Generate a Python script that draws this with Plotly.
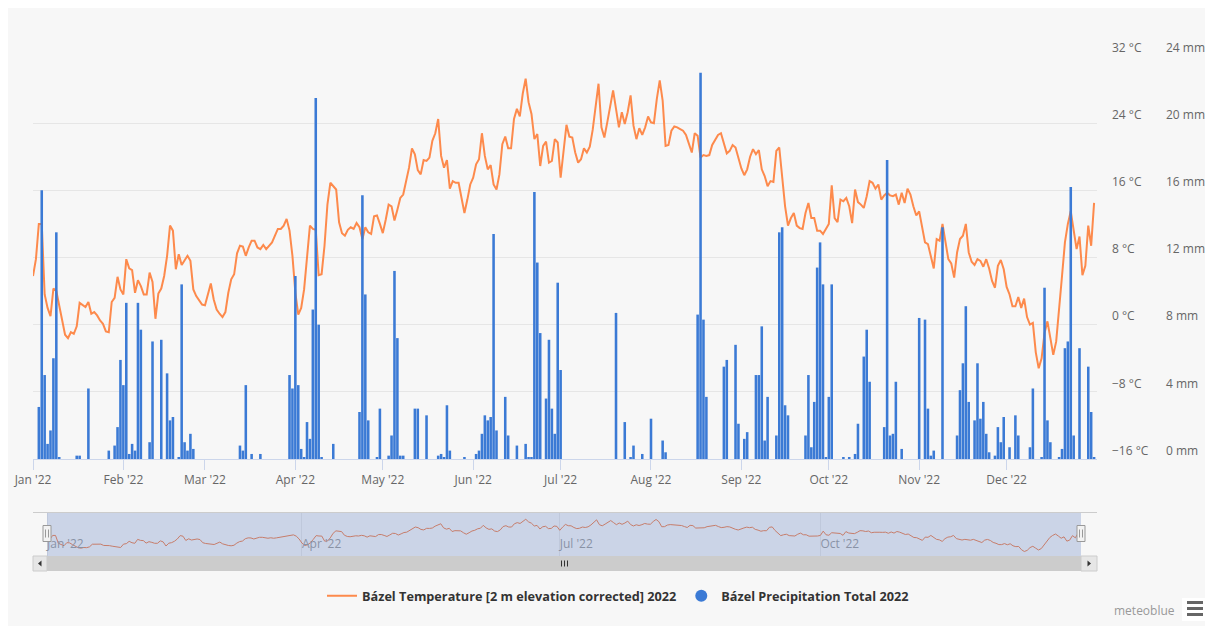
import datetime as dt
import plotly.graph_objects as go

# daily mean temperature (°C)
temp_jan = [5.8, 7.8, 12.0, 12.0, 3.6, 2.0, 1.0, 4.3, 4.0, 2.2, 0.8, -1.2, -1.6, -0.9, -1.1, -0.2,
            2.6, 2.4, 2.1, 2.7, 1.3, 1.5, 1.1, 0.5, 0.1, -0.8, -0.9, 2.7, 3.2, 5.7, 4.2]
temp_feb = [3.6, 7.8, 6.7, 6.5, 3.8, 5.3, 4.6, 3.6, 3.6, 6.2, 5.1, 0.7, 3.7, 4.3, 5.8, 8.2,
            11.8, 11.2, 6.6, 8.4, 7.1, 7.6, 8.2, 7.6, 4.2, 3.4, 2.9, 2.4]
temp_mar = [2.3, 3.6, 4.9, 3.0, 1.8, 1.3, 0.9, 1.5, 3.8, 5.4, 6.0, 8.5, 9.4, 9.3, 8.2, 9.2,
            10.0, 10.0, 9.2, 9.0, 9.5, 9.0, 9.4, 9.8, 10.6, 11.4, 11.4, 11.8, 12.6, 11.2, 8.2]
temp_apr = [3.8, 1.2, 2.0, 4.2, 7.8, 11.8, 11.4, 11.3, 5.9, 6.0, 9.4, 14.3, 16.9, 16.5, 16.1,
            12.2, 10.9, 10.6, 11.3, 11.6, 11.4, 12.1, 11.6, 10.2, 11.6, 11.0, 10.8, 12.9, 13.0, 12.0]
temp_may = [10.9, 12.5, 14.3, 14.1, 12.4, 13.7, 15.1, 15.5, 17.3, 18.7, 21.0, 20.3, 18.4, 17.9,
            19.6, 19.5, 19.9, 21.9, 22.8, 24.5, 20.1, 18.7, 19.6, 16.2, 17.1, 16.9, 16.9, 14.9,
            13.3, 14.9, 16.7]
temp_jun = [17.5, 19.1, 19.7, 22.8, 20.1, 18.5, 19.0, 16.7, 16.1, 17.9, 21.5, 22.4, 21.0, 21.0,
            24.5, 25.7, 24.8, 27.5, 29.3, 26.5, 25.1, 22.1, 22.7, 18.9, 21.3, 21.8, 19.3, 19.5,
            22.1, 21.7]
temp_jul = [17.5, 20.9, 23.8, 22.4, 22.3, 20.5, 19.3, 19.7, 21.0, 20.5, 21.2, 23.2, 25.7, 28.7,
            23.5, 22.3, 24.1, 25.9, 27.9, 25.7, 23.5, 25.3, 23.9, 25.3, 27.3, 23.7, 22.1, 23.4,
            22.6, 23.5, 24.8]
temp_aug = [24.1, 24.0, 26.9, 29.1, 26.7, 21.3, 21.4, 23.1, 23.6, 23.5, 23.3, 23.1, 22.6, 21.5,
            20.5, 22.8, 22.5, 19.9, 20.2, 20.1, 20.2, 21.4, 22.1, 22.6, 22.8, 21.5, 20.4, 20.7,
            21.4, 21.1, 19.7]
temp_sep = [18.6, 17.8, 18.5, 20.0, 20.9, 20.3, 20.8, 18.5, 17.7, 16.5, 17.1, 17.0, 20.7, 21.1,
            17.3, 14.1, 11.8, 12.7, 13.3, 11.8, 11.5, 11.4, 13.3, 14.5, 12.7, 12.7, 11.2, 11.2,
            10.8, 11.4]
temp_oct = [12.0, 16.6, 12.7, 12.2, 14.9, 14.7, 15.1, 14.1, 12.1, 16.1, 14.6, 14.3, 13.9, 15.3,
            17.1, 16.9, 16.2, 16.7, 14.9, 15.4, 15.7, 15.4, 15.3, 15.5, 14.3, 15.7, 14.5, 16.2,
            15.5, 14.1, 13.0]
temp_nov = [13.5, 11.6, 9.8, 9.6, 8.2, 6.7, 10.2, 10.0, 12.0, 10.0, 7.8, 7.3, 5.6, 8.6, 10.2,
            10.6, 12.0, 8.6, 7.5, 7.1, 7.8, 7.6, 6.9, 7.8, 6.7, 5.2, 4.4, 7.0, 7.7, 6.6]
temp_dec = [4.5, 3.6, 2.2, 2.2, 3.3, 2.0, 3.1, 0.9, 0.0, 0.2, -3.3, -5.2, -4.0, -1.0, 0.4, -1.6,
            -3.6, -2.0, 2.4, 5.8, 9.8, 12.0, 13.5, 11.4, 9.0, 10.5, 5.9, 7.0, 11.8, 9.4, 14.5]

# daily precipitation total (mm)
precip_jan = [0, 0, 3.1, 16.0, 5.0, 0.9, 1.7, 6.0, 13.5, 0.1, 0, 0, 0, 0, 0, 0.2, 0.2, 0, 0, 4.2,
              0, 0, 0, 0, 0, 0, 0.5, 0, 0.8, 1.9, 5.9]
precip_feb = [4.4, 9.3, 0.3, 0.9, 0.5, 9.3, 7.7, 0, 0, 1.0, 7.0, 0, 0, 7.1, 0, 5.1, 2.3, 2.5, 0,
              0.1, 10.4, 1.0, 0.5, 1.5, 0.6, 0, 0, 0]
precip_mar = [0, 0, 0, 0, 0, 0, 0, 0, 0, 0, 0, 0, 0.8, 0.5, 4.4, 0, 0.3, 0, 0, 0.3, 0, 0, 0, 0, 0,
              0, 0, 0, 0, 5.0, 4.2]
precip_apr = [10.9, 4.4, 0.6, 0.1, 2.2, 1.2, 8.9, 21.5, 8.0, 0.1, 0, 0, 0, 0.9, 0, 0, 0, 0, 0, 0,
              0, 0, 2.8, 15.7, 9.8, 2.3, 0, 0, 0.1, 3.0]
precip_may = [0, 0, 0.2, 1.4, 11.2, 7.2, 0.2, 0.2, 0, 0, 0, 3.0, 3.0, 0, 0, 2.6, 0, 0, 0, 0.2,
              0.3, 0.1, 3.2, 0.5, 0, 0, 0, 0, 0.1, 0, 0]
precip_jun = [0, 0.3, 0.5, 1.5, 2.6, 2.3, 2.5, 13.4, 1.7, 0, 0, 3.7, 1.4, 0, 0, 0.8, 0, 0, 0.9,
              0.1, 0.1, 15.9, 11.7, 7.5, 0, 3.6, 7.1, 3.0, 1.5, 10.5]
precip_jul = [5.3, 0, 0, 0, 0, 0, 0, 0, 0, 0, 0, 0, 0, 0, 0, 0, 0, 0, 0, 8.7, 0, 0, 2.2, 0, 0.1,
              0.8, 0, 0, 0.3, 0, 0]
precip_aug = [2.4, 0, 0, 0, 1.1, 0.4, 0, 0, 0, 0, 0, 0, 0, 0, 0, 0, 8.6, 23.0, 8.3, 3.7, 0, 0, 0,
              0, 0, 5.5, 5.9, 0, 0, 6.8, 2.1]
precip_sep = [0, 1.2, 1.6, 0, 0, 5.0, 5.0, 7.9, 1.1, 3.7, 0, 0, 1.4, 13.5, 13.8, 3.2, 2.6, 0, 0,
              0, 0, 0, 1.4, 5.0, 0.7, 3.4, 11.4, 12.9, 10.4, 0.1]
precip_oct = [3.7, 10.4, 0, 0, 0, 0.1, 0, 0.1, 0, 0.3, 2.1, 0, 6.1, 7.7, 4.6, 0, 0, 0, 0, 1.9,
              17.8, 1.4, 1.5, 4.6, 0, 0.6, 0, 0, 0, 0, 0]
precip_nov = [8.4, 0, 8.3, 3.0, 0.2, 0.5, 0, 0, 13.8, 0, 0, 0, 0, 1.4, 4.1, 5.7, 9.1, 3.4, 0, 2.3,
              5.7, 2.4, 3.4, 1.5, 0.4, 0, 0.2, 1.9, 1.0, 2.5]
precip_dec = [0, 0.7, 0, 2.6, 1.4, 0, 0, 0, 0.7, 4.2, 0, 0, 0.1, 10.2, 2.3, 1.0, 0, 0, 0.1, 0.6,
              6.6, 7.0, 16.2, 1.4, 0, 6.6, 0, 0, 5.5, 2.8, 0.1]

month_labels = ["Jan '22", "Feb '22", "Mar '22", "Apr '22", "May '22", "Jun '22",
                "Jul '22", "Aug '22", "Sep '22", "Oct '22", "Nov '22", "Dec '22"]
nav_labels = ["Jan '22", "Apr '22", "Jul '22", "Oct '22"]
temp_ticks = [-16, -8, 0, 8, 16, 24, 32]
temp_tick_labels = ["\u221216 °C", "\u22128 °C", "0 °C", "8 °C", "16 °C", "24 °C", "32 °C"]
precip_ticks = [0, 4, 8, 12, 16, 20, 24]
precip_tick_labels = ["0 mm", "4 mm", "8 mm", "12 mm", "16 mm", "20 mm", "24 mm"]

temperature = (temp_jan + temp_feb + temp_mar + temp_apr + temp_may + temp_jun +
               temp_jul + temp_aug + temp_sep + temp_oct + temp_nov + temp_dec)
precipitation = (precip_jan + precip_feb + precip_mar + precip_apr + precip_may + precip_jun +
                 precip_jul + precip_aug + precip_sep + precip_oct + precip_nov + precip_dec)

start = dt.date(2022, 1, 1)
days = [start + dt.timedelta(days=i) for i in range(len(temperature))]
month_starts = [dt.date(2022, m, 1) for m in range(1, 13)]
nav_starts = [dt.date(2022, m, 1) for m in (1, 4, 7, 10)]

# page has an 8px body margin; positions below are given in window pixels
OFF = 8
W, H = 1200, 618
ORANGE = '#fd8a4c'
BLUE = '#3b7ad5'


def fx(px):
    return (px - OFF) / W


def fy(py):
    return 1 - (py - OFF) / H


# navigator: series occupies 47..1081 px inside a 33..1097 px axis
nav_px_day = (1081 - 47) / 365
nav_range = [dt.datetime(2022, 1, 1) - dt.timedelta(days=14 / nav_px_day),
             dt.datetime(2023, 1, 1) + dt.timedelta(days=16 / nav_px_day)]

fig = go.Figure()

fig.add_trace(go.Scatter(
    x=days, y=temperature, mode='lines', name='Bázel Temperature [2 m elevation corrected] 2022',
    line=dict(color=ORANGE, width=2), xaxis='x', yaxis='y'))
fig.add_trace(go.Bar(
    x=days, y=precipitation, name='Bázel Precipitation Total 2022', marker_color=BLUE,
    marker_line_width=0, showlegend=False, xaxis='x', yaxis='y2'))
# legend symbol for precipitation (round, as in the original)
fig.add_trace(go.Scatter(
    x=[None], y=[None], mode='markers', name='Bázel Precipitation Total 2022',
    marker=dict(color=BLUE, size=12, symbol='circle'), xaxis='x', yaxis='y2'))
# navigator line
fig.add_trace(go.Scatter(
    x=days, y=temperature, mode='lines', line=dict(color='#f07a45', width=1),
    showlegend=False, xaxis='x2', yaxis='y3', hoverinfo='skip'))

shapes = []
# navigator outline
shapes.append(dict(type='line', xref='paper', yref='paper', x0=fx(33), x1=fx(1097),
                   y0=fy(512.5), y1=fy(512.5), line=dict(color='#cccccc', width=1)))
# navigator mask
shapes.append(dict(type='rect', xref='x2', yref='y3 domain', x0=days[0],
                   x1=dt.datetime(2023, 1, 1), y0=0, y1=1,
                   fillcolor='rgba(102,133,194,0.3)', line_width=0, layer='above'))
# scrollbar
shapes.append(dict(type='rect', xref='paper', yref='paper', x0=fx(33), x1=fx(1097),
                   y0=fy(571), y1=fy(556), fillcolor='#f2f2f2', line_width=0))
shapes.append(dict(type='rect', xref='paper', yref='paper', x0=fx(47), x1=fx(1081),
                   y0=fy(571), y1=fy(556), fillcolor='#cccccc', line_width=0))
for bx0, bx1 in ((33, 47), (1081, 1097)):
    shapes.append(dict(type='rect', xref='paper', yref='paper', x0=fx(bx0), x1=fx(bx1),
                       y0=fy(571), y1=fy(556), fillcolor='#e6e6e6',
                       line=dict(color='#cccccc', width=1)))


def ppath(points):
    s = 'M ' + ' L '.join('%.5f %.5f' % (fx(a), fy(b)) for a, b in points)
    return s + ' Z'


shapes.append(dict(type='path', xref='paper', yref='paper',
                   path=ppath([(41.5, 560.5), (38, 563.5), (41.5, 566.5)]),
                   fillcolor='#333333', line_width=0))
shapes.append(dict(type='path', xref='paper', yref='paper',
                   path=ppath([(1087.5, 560.5), (1091, 563.5), (1087.5, 566.5)]),
                   fillcolor='#333333', line_width=0))
for gx in (561.5, 564.5, 567.5):
    shapes.append(dict(type='line', xref='paper', yref='paper', x0=fx(gx), x1=fx(gx),
                       y0=fy(560.5), y1=fy(566.5), line=dict(color='#333333', width=1)))
# navigator handles
for hx in (47, 1081):
    shapes.append(dict(type='rect', xref='paper', yref='paper', x0=fx(hx - 4), x1=fx(hx + 4),
                       y0=fy(541.5), y1=fy(525.5), fillcolor='#f2f2f2',
                       line=dict(color='#999999', width=1)))
    for lx in (hx - 1.5, hx + 1.5):
        shapes.append(dict(type='line', xref='paper', yref='paper', x0=fx(lx), x1=fx(lx),
                           y0=fy(537.5), y1=fy(529.5), line=dict(color='#999999', width=1)))
# menu button
shapes.append(dict(type='rect', xref='paper', yref='paper', x0=fx(1182), x1=fx(1208),
                   y0=fy(621), y1=fy(598), fillcolor='#ffffff', line_width=0))
for ly in (602.5, 608.5, 614.5):
    shapes.append(dict(type='line', xref='paper', yref='paper', x0=fx(1187), x1=fx(1203),
                       y0=fy(ly), y1=fy(ly), line=dict(color='#666666', width=3)))

fig.update_layout(
    width=W, height=H,
    margin=dict(l=0, r=0, t=0, b=0),
    paper_bgcolor='#f7f7f7', plot_bgcolor='rgba(0,0,0,0)',
    font=dict(family='Open Sans', size=12, color='#666666'),
    bargap=0.12,
    hovermode=False,
    legend=dict(orientation='h', x=fx(618), xanchor='center', y=fy(596), yanchor='middle',
                font=dict(size=12.7, color='#333333', weight='bold'),
                bgcolor='rgba(0,0,0,0)', traceorder='normal'),
    xaxis=dict(domain=[fx(33), fx(1097)], anchor='y', type='date',
               range=[dt.datetime(2022, 1, 1), dt.datetime(2023, 1, 1)],
               tickvals=month_starts, ticktext=month_labels, ticks='outside', ticklen=10,
               tickcolor='#ccd6eb', showline=True, linecolor='#ccd6eb', linewidth=1,
               showgrid=False, zeroline=False, automargin=False, fixedrange=True),
    yaxis=dict(domain=[fy(459), fy(56)], anchor='x', range=[-16, 32], tickvals=temp_ticks,
               ticktext=temp_tick_labels, side='right', showgrid=True, gridcolor='#e6e6e6',
               zeroline=False, ticks='', ticklabelposition='outside top',
               ticklabelstandoff=14, automargin=False, fixedrange=True),
    yaxis2=dict(overlaying='y', anchor='free', position=fx(1151), side='right',
                range=[0, 24], tickvals=precip_ticks, ticktext=precip_tick_labels,
                showgrid=False, zeroline=False, ticks='', ticklabelposition='outside top',
                ticklabelstandoff=14, automargin=False, fixedrange=True),
    xaxis2=dict(domain=[fx(33), fx(1097)], anchor='y3', type='date', range=nav_range,
                tickvals=nav_starts, ticktext=nav_labels, ticklabelposition='inside right',
                ticks='', showgrid=True, gridcolor='#e6e6e6', showline=False, zeroline=False,
                tickfont=dict(color='#999999'), automargin=False, fixedrange=True),
    yaxis3=dict(domain=[fy(556), fy(513)], anchor='x2', range=[-10, 36], visible=False,
                fixedrange=True),
    shapes=shapes,
    annotations=[dict(text='meteoblue', xref='paper', yref='paper', x=fx(1112), y=fy(610),
                      xanchor='left', yanchor='middle', showarrow=False,
                      font=dict(size=12, color='#999999'))],
)

fig.write_html("out.html")
